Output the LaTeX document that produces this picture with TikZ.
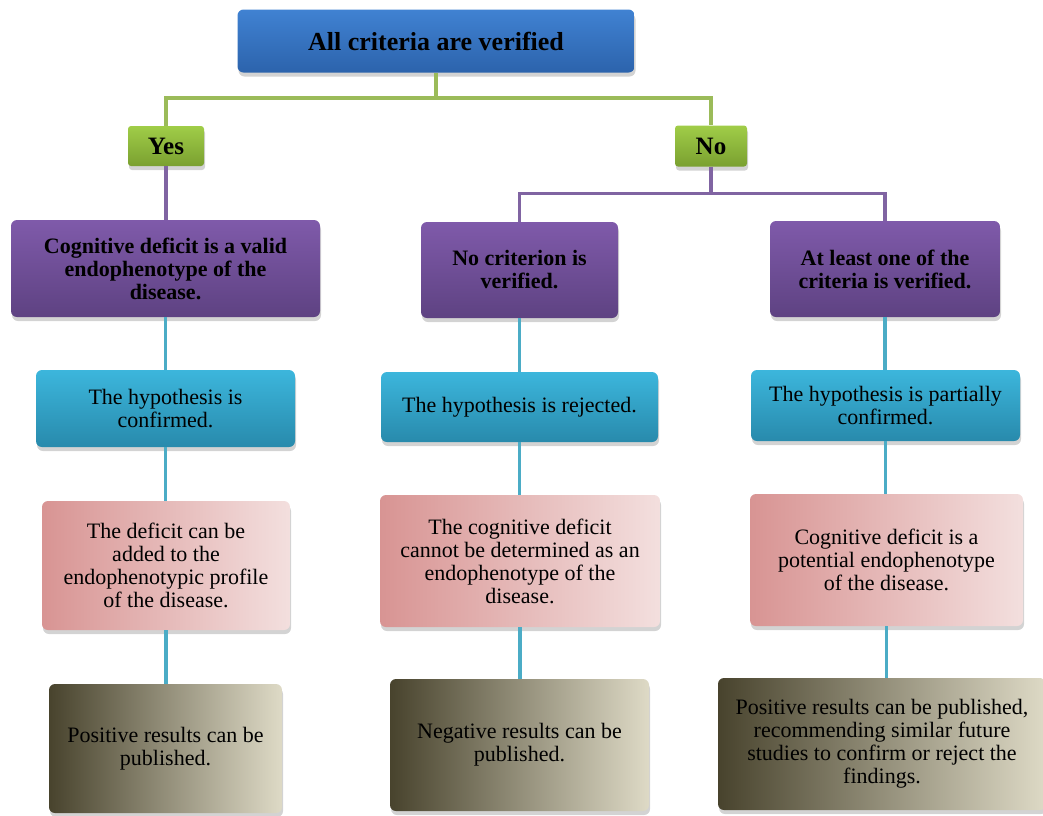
\documentclass[tikz,border=0pt]{standalone}
\usepackage{fontspec}
\setmainfont{Liberation Serif}
\usetikzlibrary{shadows,calc}
\definecolor{lngreen}{HTML}{9BBB59}
\definecolor{lnpurple}{HTML}{8064A2}
\definecolor{lncyan}{HTML}{4BACC6}
\tikzset{
  box/.style={rectangle, rounded corners=6pt, inner sep=0pt, align=center,
    drop shadow={opacity=0.35, shadow xshift=1pt, shadow yshift=-4pt},
    font=\fontsize{22}{23}\selectfont},
  topbox/.style={box, top color={rgb,255:red,64;green,130;blue,210}, bottom color={rgb,255:red,44;green,99;blue,172}, font=\bfseries\fontsize{26}{28}\selectfont},
  ynbox/.style={box, rounded corners=3pt, top color={rgb,255:red,160;green,205;blue,72}, bottom color={rgb,255:red,122;green,160;blue,48}, font=\bfseries\fontsize{25}{27}\selectfont},
  purplebox/.style={box, top color={rgb,255:red,127;green,90;blue,170}, bottom color={rgb,255:red,94;green,66;blue,130}, font=\bfseries\fontsize{22}{23}\selectfont},
  cyanbox/.style={box, top color={rgb,255:red,60;green,182;blue,220}, bottom color={rgb,255:red,40;green,138;blue,172}},
  pinkbox/.style={box, left color={rgb,255:red,216;green,148;blue,147}, right color={rgb,255:red,243;green,223;blue,222}},
  olivebox/.style={box, left color={rgb,255:red,72;green,67;blue,45}, right color={rgb,255:red,222;green,218;blue,198}},
  gline/.style={draw=lngreen, line width=4pt},
  pline/.style={draw=lnpurple, line width=3.5pt},
  cline/.style={draw=lncyan, line width=3.5pt},
}
\begin{document}
\begin{tikzpicture}[x=1pt,y=-1pt]
\useasboundingbox (0,0) rectangle (1043,815);
% nodes
\node[topbox, minimum width=397pt, minimum height=63pt] (top) at (436,41) {All criteria are verified};
\node[ynbox, minimum width=76pt, minimum height=40pt] (yes) at (166,146) {Yes};
\node[ynbox, minimum width=72pt, minimum height=41pt] (no) at (711,146) {No};
\node[purplebox, minimum width=309pt, minimum height=97pt] (p1) at (165.5,268.5) {Cognitive deficit is a valid\\endophenotype of the\\disease.};
\node[purplebox, minimum width=197pt, minimum height=96pt] (p2) at (519.5,270) {No criterion is\\verified.};
\node[purplebox, minimum width=230pt, minimum height=96pt] (p3) at (885,269) {At least one of the\\criteria is verified.};
\node[cyanbox, minimum width=259pt, minimum height=77pt] (c1) at (165.5,408.5) {The hypothesis is\\confirmed.};
\node[cyanbox, minimum width=277pt, minimum height=70pt] (c2) at (519.5,407) {The hypothesis is rejected.};
\node[cyanbox, minimum width=269pt, minimum height=71pt] (c3) at (885.5,405.5) {The hypothesis is partially\\confirmed.};
\node[pinkbox, minimum width=248pt, minimum height=129pt] (k1) at (166,565.5) {The deficit can be\\added to the\\endophenotypic profile\\of the disease.};
\node[pinkbox, minimum width=280pt, minimum height=132pt] (k2) at (520,561) {The cognitive deficit\\cannot be determined as an\\endophenotype of the\\disease.};
\node[pinkbox, minimum width=273pt, minimum height=132pt] (k3) at (886.5,560) {Cognitive deficit is a\\potential endophenotype\\of the disease.};
\node[olivebox, minimum width=233pt, minimum height=129pt] (b1) at (165.5,748.5) {Positive results can be\\published.};
\node[olivebox, minimum width=259pt, minimum height=132pt] (b2) at (519.5,745) {Negative results can be\\published.};
\node[olivebox, minimum width=328pt, minimum height=132pt] (b3) at (882,744) {Positive results can be published,\\recommending similar future\\studies to confirm or reject the\\findings.};
% connectors
\draw[gline] (top.south) -- ++(0,25.5) coordinate (gmid) -| (yes.north);
\draw[gline] (gmid) -| (no.north);
\draw[pline] (yes.south) -- (yes.south |- p1.north);
\draw[pline] (no.south) -- ++(0,27) coordinate (pmid) -| (p2.north);
\draw[pline] (pmid) -| (p3.north);
\draw[cline] (p1.south) -- (p1.south |- c1.north);
\draw[cline] (p2.south) -- (p2.south |- c2.north);
\draw[cline] (p3.south) -- (p3.south |- c3.north);
\draw[cline] (c1.south) -- (c1.south |- k1.north);
\draw[cline] (c2.south) -- (c2.south |- k2.north);
\draw[cline] (c3.south) -- (c3.south |- k3.north);
\draw[cline] (k1.south) -- (k1.south |- b1.north);
\draw[cline] (k2.south) -- (k2.south |- b2.north);
\draw[cline] (k3.south) -- (k3.south |- b3.north);
\end{tikzpicture}
\end{document}
